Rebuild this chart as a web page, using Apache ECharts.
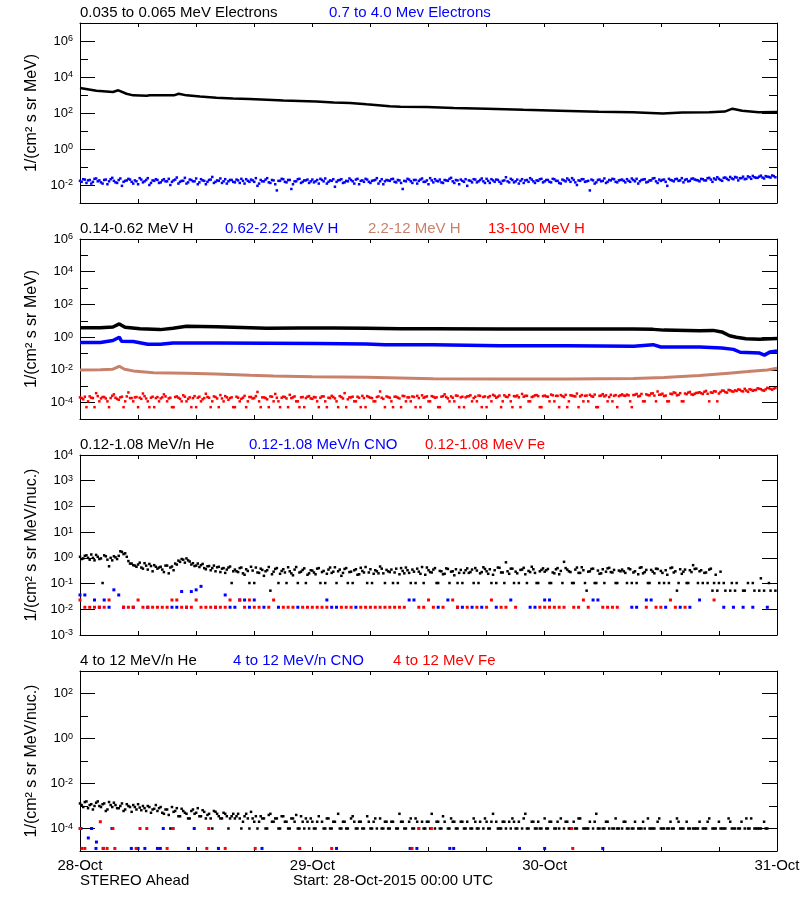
<!DOCTYPE html>
<html><head><meta charset="utf-8">
<script src="https://cdn.jsdelivr.net/npm/echarts@6/dist/echarts.min.js"></script>
<style>html,body{margin:0;padding:0;background:#fff}#c{width:800px;height:900px}</style>
</head><body><div id="c"></div>
<script>
const _ = null;
// sample spacing in hours for the regularly sampled series (second set offset by 10 min)
const STEP20 = 1 / 3, STEP30 = 0.5, OFF10 = 1 / 6;
// x tick labels (hours from 28-Oct-2015 00:00 UTC)
const tickHours = [0, 24, 48, 72];
const tickLabels = ['28-Oct', '29-Oct', '30-Oct', '31-Oct'];

// ---- Panel 1: electrons ----
const elecLoTimes = [0, 1.7, 3.4, 3.96, 4.8, 5.5, 6.9, 7.2, 9.7, 10.2, 11.0, 12.4, 14.1, 15.8, 17.5, 19.3, 21.0, 22.7, 24.4, 26.2, 27.9, 29.6, 32.0, 33.1, 35.8, 38.6, 42.0, 45.8, 49.5, 53.6, 57.1, 60.2, 62.2, 65.0, 66.6, 67.4, 68.4, 70.1, 72];
const elecLoVals = [2455, 1738, 1479, 1820, 1175, 955, 912, 977, 955, 1175, 955, 813, 708, 646, 603, 550, 501, 468, 437, 389, 363, 302, 234, 224, 214, 191, 174, 151, 135, 117, 110, 95, 105, 110, 120, 174, 135, 110, 112];
const elecHiVals = [
0.017,0.021,0.013,0.019,0.015,0.023,0.018,0.012,0.020,0.016,0.025,0.014,0.019,0.009,0.017,0.022,0.015,0.018,0.011,0.020,0.016,0.024,0.013,0.017,
0.019,0.014,0.021,0.016,0.010,0.018,0.026,0.015,0.017,0.012,0.020,0.016,0.023,0.014,0.018,0.011,0.019,0.028,0.015,0.017,0.013,0.021,0.016,0.019,
0.014,0.018,0.022,0.012,0.017,0.020,0.015,0.009,0.019,0.016,0.024,0.013,0.018,0.005,0.017,0.021,0.014,0.019,0.011,0.016,0.022,0.015,0.018,0.013,
0.020,0.016,0.012,0.019,0.023,0.015,0.017,0.008,0.018,0.021,0.014,0.016,0.019,0.012,0.022,0.017,0.015,0.020,0.013,0.018,0.024,0.016,0.011,0.019,
0.017,0.022,0.014,0.018,0.006,0.016,0.020,0.013,0.019,0.017,0.023,0.015,0.011,0.018,0.021,0.016,0.014,0.019,0.017,0.025,0.013,0.018,0.020,0.015,
0.009,0.017,0.021,0.014,0.019,0.016,0.022,0.013,0.018,0.020,0.015,0.017,0.027,0.014,0.019,0.016,0.012,0.021,0.018,0.015,0.020,0.013,0.017,0.022,
0.016,0.019,0.014,0.021,0.017,0.012,0.018,0.023,0.015,0.019,0.010,0.017,0.021,0.016,0.005,0.018,0.014,0.020,0.017,0.013,0.019,0.022,0.015,0.018,
0.020,0.014,0.017,0.023,0.016,0.012,0.019,0.021,0.015,0.018,0.024,0.013,0.017,0.020,0.009,0.019,0.016,0.022,0.018,0.014,0.021,0.017,0.023,0.019,
0.016,0.021,0.018,0.025,0.015,0.020,0.022,0.017,0.026,0.019,0.023,0.028,0.018,0.024,0.021,0.030,0.022,0.027,0.025,0.033,0.023,0.029,0.026,0.031];
const elecHiValsB = [
0.015,0.020,0.018,0.012,0.022,0.016,0.014,0.019,0.011,0.021,0.017,0.013,0.023,0.015,0.018,0.020,0.012,0.016,0.024,0.014,0.019,0.010,0.018,0.021,
0.013,0.018,0.016,0.022,0.015,0.020,0.012,0.017,0.025,0.014,0.019,0.016,0.011,0.021,0.017,0.015,0.020,0.013,0.018,0.023,0.016,0.012,0.019,0.015,
0.020,0.013,0.017,0.021,0.015,0.018,0.024,0.012,0.016,0.020,0.014,0.019,0.011,0.017,0.022,0.015,0.019,0.006,0.016,0.021,0.013,0.018,0.020,0.016,
0.014,0.019,0.022,0.016,0.012,0.018,0.021,0.015,0.019,0.013,0.017,0.023,0.016,0.020,0.011,0.018,0.022,0.015,0.017,0.019,0.012,0.021,0.016,0.018,
0.021,0.015,0.019,0.013,0.017,0.022,0.016,0.019,0.012,0.020,0.015,0.018,0.024,0.014,0.017,0.020,0.013,0.018,0.022,0.016,0.019,0.011,0.017,0.021,
0.018,0.014,0.020,0.016,0.023,0.013,0.017,0.021,0.015,0.019,0.012,0.018,0.016,0.022,0.014,0.020,0.017,0.013,0.019,0.024,0.016,0.018,0.021,0.014,
0.019,0.015,0.022,0.017,0.013,0.020,0.016,0.019,0.024,0.014,0.018,0.021,0.015,0.017,0.020,0.012,0.019,0.016,0.023,0.015,0.018,0.021,0.014,0.019,
0.017,0.021,0.015,0.019,0.022,0.016,0.020,0.014,0.018,0.023,0.016,0.020,0.019,0.015,0.022,0.018,0.021,0.017,0.024,0.019,0.016,0.022,0.020,0.018,
0.022,0.018,0.024,0.020,0.023,0.027,0.019,0.025,0.022,0.028,0.021,0.026,0.024,0.029,0.022,0.027,0.032,0.025,0.029,0.026,0.031,0.028,0.034,0.027];

// ---- Panel 2: protons ----
const hLoTimes = [0, 2.1, 3.4, 4.06, 4.65, 6.2, 8.3, 9.6, 11.0, 14.1, 17.6, 19.3, 22.7, 26.2, 29.6, 33.1, 36.5, 43.4, 50.3, 57.2, 59.2, 60.3, 64.0, 65.4, 66.3, 67.1, 67.8, 68.8, 70.2, 72];
const hLoVals = [3.8, 3.8, 4.2, 6.5, 4.0, 3.3, 2.9, 3.5, 4.6, 4.4, 3.8, 3.5, 3.6, 3.6, 3.5, 3.3, 3.3, 3.2, 3.2, 3.2, 3.0, 2.7, 2.5, 2.6, 2.1, 1.23, 1.0, 0.8, 0.76, 0.83];
const hMidTimes = [0, 2.1, 3.4, 4.06, 4.3, 5.5, 7.0, 8.3, 9.6, 14.0, 19.3, 24.5, 29.6, 31.5, 33.1, 36.5, 43.4, 50.3, 57.2, 59.2, 60.0, 64.0, 66.3, 67.5, 68.2, 70.2, 70.7, 71.3, 72];
const hMidVals = [0.47, 0.47, 0.63, 1.0, 0.56, 0.54, 0.37, 0.37, 0.44, 0.44, 0.43, 0.41, 0.38, 0.34, 0.35, 0.34, 0.30, 0.30, 0.28, 0.35, 0.25, 0.25, 0.22, 0.18, 0.12, 0.107, 0.08, 0.126, 0.145];
const hHiTimes = [0, 2.1, 3.4, 4.06, 4.6, 5.5, 7.6, 11, 14, 17.6, 20, 24, 29.6, 33, 36.5, 43.4, 50.3, 57.2, 60.3, 64, 67, 69, 71, 72];
const hHiVals = [0.010, 0.0102, 0.011, 0.0166, 0.011, 0.0087, 0.0068, 0.0063, 0.0056, 0.0047, 0.0043, 0.0038, 0.0035, 0.0032, 0.0029, 0.0028, 0.0028, 0.0030, 0.0034, 0.0045, 0.0063, 0.0079, 0.010, 0.0126];
const hVhiVals = [
2.1e-4,1.6e-4,5.3e-5,2.4e-4,1.9e-4,3.8e-4,1.2e-4,2.2e-4,1.8e-4,5.3e-5,2.6e-4,2.0e-4,1.5e-4,2.3e-4,1.2e-4,4.2e-4,1.9e-4,2.1e-4,5.3e-5,1.7e-4,2.5e-4,1.2e-4,2.0e-4,5.3e-5,
2.2e-4,1.8e-4,3.2e-4,1.2e-4,2.0e-4,5.3e-5,2.4e-4,1.7e-4,2.8e-4,1.2e-4,2.1e-4,1.9e-4,5.3e-5,2.3e-4,1.6e-4,3.5e-4,2.0e-4,1.2e-4,2.2e-4,5.3e-5,1.8e-4,2.5e-4,1.5e-4,2.1e-4,
5.3e-5,2.0e-4,1.7e-4,2.6e-4,1.2e-4,2.2e-4,1.9e-4,4.5e-4,5.3e-5,2.1e-4,1.6e-4,2.4e-4,1.2e-4,2.0e-4,5.3e-5,2.3e-4,1.8e-4,3.0e-4,2.1e-4,1.2e-4,5.3e-5,2.2e-4,1.9e-4,2.5e-4,
1.7e-4,2.1e-4,5.3e-5,2.4e-4,1.2e-4,2.0e-4,2.6e-4,1.8e-4,5.3e-5,2.2e-4,3.8e-4,1.6e-4,2.1e-4,1.2e-4,2.3e-4,5.3e-5,1.9e-4,2.5e-4,2.0e-4,1.2e-4,2.2e-4,4.8e-4,1.7e-4,2.4e-4,
2.0e-4,5.3e-5,2.3e-4,1.8e-4,2.6e-4,1.2e-4,2.1e-4,2.4e-4,5.3e-5,1.9e-4,2.8e-4,2.2e-4,1.2e-4,2.5e-4,2.0e-4,5.3e-5,2.3e-4,3.2e-4,1.8e-4,2.4e-4,1.2e-4,2.6e-4,2.1e-4,5.3e-5,
2.4e-4,2.8e-4,1.9e-4,1.2e-4,2.6e-4,2.2e-4,5.3e-5,2.5e-4,3.0e-4,2.0e-4,2.7e-4,1.2e-4,2.3e-4,2.9e-4,5.3e-5,2.4e-4,2.1e-4,3.4e-4,2.6e-4,1.2e-4,2.2e-4,2.8e-4,2.5e-4,5.3e-5,
2.7e-4,2.3e-4,3.1e-4,1.2e-4,2.6e-4,2.9e-4,2.2e-4,5.3e-5,2.8e-4,2.5e-4,3.6e-4,2.4e-4,1.2e-4,2.7e-4,3.0e-4,2.3e-4,5.3e-5,2.6e-4,3.3e-4,2.8e-4,2.2e-4,1.2e-4,2.9e-4,2.5e-4,
3.2e-4,2.6e-4,2.8e-4,5.3e-5,3.0e-4,2.4e-4,3.4e-4,1.2e-4,2.9e-4,3.6e-4,2.7e-4,4.8e-4,3.1e-4,2.5e-4,1.2e-4,3.5e-4,4.2e-4,2.8e-4,3.8e-4,1.2e-4,3.3e-4,4.5e-4,3.0e-4,3.9e-4,
4.3e-4,3.4e-4,5.2e-4,1.2e-4,4.0e-4,4.8e-4,3.6e-4,5.5e-4,4.4e-4,6.0e-4,4.9e-4,5.6e-4,6.4e-4,5.1e-4,7.0e-4,4.6e-4,6.2e-4,5.8e-4,7.5e-4,6.6e-4,5.4e-4,8.0e-4,6.9e-4,7.2e-4];
const hVhiValsB = [
1.9e-4,2.3e-4,1.2e-4,2.0e-4,5.3e-5,2.5e-4,1.8e-4,2.2e-4,1.2e-4,1.9e-4,3.2e-4,1.7e-4,2.1e-4,5.3e-5,2.4e-4,1.9e-4,1.2e-4,2.2e-4,2.0e-4,3.6e-4,1.8e-4,5.3e-5,2.3e-4,1.9e-4,
1.2e-4,2.1e-4,2.4e-4,1.8e-4,5.3e-5,2.2e-4,2.0e-4,1.2e-4,2.3e-4,1.7e-4,5.3e-5,2.5e-4,2.0e-4,1.2e-4,1.9e-4,2.2e-4,5.3e-5,2.4e-4,1.8e-4,2.9e-4,1.2e-4,2.1e-4,1.9e-4,5.3e-5,
2.3e-4,1.2e-4,2.0e-4,5.3e-5,2.2e-4,1.8e-4,2.5e-4,1.2e-4,2.1e-4,1.9e-4,5.3e-5,2.3e-4,3.4e-4,1.2e-4,2.0e-4,2.2e-4,5.3e-5,1.9e-4,2.4e-4,1.2e-4,2.1e-4,5.3e-5,2.3e-4,1.8e-4,
2.2e-4,1.2e-4,2.0e-4,2.4e-4,5.3e-5,1.9e-4,2.2e-4,1.2e-4,2.5e-4,1.8e-4,5.3e-5,2.1e-4,2.3e-4,1.2e-4,2.0e-4,2.6e-4,5.3e-5,2.2e-4,1.9e-4,1.2e-4,2.4e-4,2.0e-4,5.3e-5,2.2e-4,
1.2e-4,2.3e-4,2.0e-4,5.3e-5,2.5e-4,2.1e-4,1.2e-4,2.2e-4,2.6e-4,5.3e-5,2.0e-4,2.4e-4,1.2e-4,2.3e-4,2.1e-4,5.3e-5,2.5e-4,2.2e-4,1.2e-4,2.0e-4,2.7e-4,5.3e-5,2.3e-4,2.1e-4,
2.5e-4,1.2e-4,2.3e-4,2.7e-4,5.3e-5,2.4e-4,2.1e-4,1.2e-4,2.6e-4,2.3e-4,5.3e-5,2.8e-4,2.2e-4,1.2e-4,2.5e-4,2.7e-4,5.3e-5,2.3e-4,2.6e-4,1.2e-4,2.4e-4,2.9e-4,5.3e-5,2.5e-4,
2.4e-4,1.2e-4,2.8e-4,2.6e-4,5.3e-5,2.5e-4,3.0e-4,1.2e-4,2.7e-4,2.4e-4,5.3e-5,2.9e-4,2.6e-4,1.2e-4,2.5e-4,3.1e-4,5.3e-5,2.7e-4,2.4e-4,1.2e-4,3.0e-4,2.6e-4,5.3e-5,2.8e-4,
2.7e-4,3.1e-4,1.2e-4,2.9e-4,3.4e-4,2.6e-4,1.2e-4,3.2e-4,2.8e-4,3.7e-4,1.2e-4,3.0e-4,3.5e-4,2.7e-4,1.2e-4,3.3e-4,3.9e-4,3.0e-4,1.2e-4,3.6e-4,4.1e-4,3.2e-4,3.5e-4,4.0e-4,
3.8e-4,4.6e-4,3.5e-4,4.2e-4,5.0e-4,1.2e-4,4.5e-4,5.3e-4,4.1e-4,5.7e-4,4.7e-4,5.2e-4,6.1e-4,4.9e-4,5.5e-4,6.6e-4,5.3e-4,6.0e-4,7.1e-4,5.7e-4,6.5e-4,7.6e-4,6.2e-4,7.8e-4];

// ---- Panel 3: 0.12-1.08 MeV/n ions ----
const heLoVals = [
1.1,0.95,1.25,0.85,1.0,1.3,0.9,0.105,1.15,0.47,0.8,1.05,1.2,1.7,1.5,0.75,0.6,0.5,0.55,0.42,0.62,0.35,0.48,0.52,
0.38,0.45,0.28,0.5,0.42,0.33,0.55,0.7,0.85,0.95,0.72,0.62,0.5,0.44,0.58,0.36,0.48,0.4,0.3,0.45,0.38,0.26,0.42,0.105,
0.35,0.28,0.42,0.22,0.31,0.45,0.105,0.27,0.38,0.2,0.33,0.053,0.29,0.4,0.24,0.36,0.105,0.3,0.21,0.44,0.27,0.34,0.105,0.25,
0.32,0.23,0.4,0.28,0.105,0.35,0.26,0.43,0.3,0.2,0.37,0.105,0.29,0.33,0.22,0.41,0.27,0.105,0.36,0.24,0.3,0.46,0.25,0.34,
0.28,0.105,0.38,0.23,0.31,0.42,0.26,0.35,0.105,0.29,0.44,0.22,0.33,0.27,0.4,0.105,0.3,0.24,0.37,0.29,0.21,0.105,0.34,0.26,
0.39,0.28,0.105,0.32,0.25,0.43,0.3,0.36,0.22,0.105,0.41,0.27,0.67,0.24,0.38,0.29,0.105,0.35,0.23,0.31,0.45,0.26,0.105,0.34,
0.29,0.37,0.105,0.25,0.4,0.31,0.7,0.35,0.28,0.105,0.42,0.26,0.33,0.053,0.3,0.38,0.105,0.24,0.36,0.29,0.41,0.27,0.105,0.32,
0.35,0.26,0.39,0.105,0.3,0.23,0.43,0.28,0.105,0.34,0.25,0.37,0.31,0.105,0.22,0.4,0.27,0.053,0.36,0.29,0.105,0.33,0.52,0.38,
0.3,0.105,0.27,0.35,0.053,0.22,0.105,_,0.053,_,0.105,0.053,_,_,0.053,0.105,_,0.053,_,0.16,0.053,_,0.053,_];
const heLoValsB = [
0.9,1.2,1.0,1.35,0.8,1.1,0.95,1.25,0.85,1.0,1.15,0.9,1.8,1.4,1.1,0.6,0.52,0.45,0.65,0.38,0.5,0.58,0.3,0.45,
0.42,0.35,0.5,0.25,0.46,0.6,0.78,0.9,0.65,0.8,0.55,0.48,0.6,0.52,0.4,0.47,0.33,0.5,0.43,0.28,0.4,0.35,0.46,0.3,
0.3,0.4,0.25,0.36,0.105,0.32,0.42,0.26,0.34,0.3,0.44,0.23,0.37,0.105,0.31,0.27,0.43,0.25,0.35,0.105,0.29,0.39,0.22,0.33,
0.27,0.38,0.105,0.31,0.24,0.42,0.29,0.105,0.35,0.26,0.4,0.28,0.105,0.36,0.23,0.31,0.44,0.27,0.105,0.33,0.25,0.38,0.105,0.3,
0.35,0.27,0.105,0.4,0.25,0.33,0.105,0.29,0.38,0.24,0.105,0.42,0.28,0.35,0.105,0.31,0.23,0.39,0.105,0.3,0.36,0.26,0.105,0.33,
0.26,0.35,0.4,0.105,0.28,0.37,0.24,0.105,0.33,0.42,0.27,0.105,0.3,0.38,0.105,0.25,0.34,0.41,0.105,0.28,0.36,0.105,0.3,0.39,
0.33,0.105,0.27,0.36,0.23,0.105,0.4,0.3,0.105,0.35,0.26,0.43,0.105,0.29,0.37,0.105,0.32,0.25,0.105,0.39,0.28,0.34,0.105,0.3,
0.3,0.105,0.36,0.27,0.105,0.41,0.25,0.34,0.105,0.29,0.38,0.105,0.26,0.33,0.105,0.42,0.3,0.105,0.24,0.35,0.105,0.28,0.37,0.105,
0.33,0.26,0.105,0.38,0.105,0.053,0.29,0.105,_,0.053,_,0.105,_,0.053,_,_,0.105,_,0.053,_,_,0.105,_,0.053];
const cnoLoVals = [
0.036,0.036,_,0.023,0.012,0.023,0.012,0.057,0.036,0.012,_,0.012,_,_,0.012,_,
_,_,_,0.012,0.012,0.049,0.012,0.049,0.057,0.078,_,_,0.012,_,0.036,0.012,
0.012,0.023,0.023,0.012,0.023,_,0.012,_,_,0.012,_,_,_,0.012,_,_,
_,_,_,0.023,0.012,0.012,_,_,_,0.012,_,_,_,_,_,_,
_,_,_,_,0.023,0.023,_,_,_,_,0.012,_,0.023,_,0.012,0.012,
_,0.012,_,0.012,_,_,0.012,_,_,0.023,_,_,_,0.012,0.012,_,
0.023,0.023,_,_,_,_,_,_,_,_,0.023,0.023,_,_,_,_,
_,_,0.012,0.012,_,0.023,0.023,_,_,0.012,_,_,0.012,_,0.012,_,
0.023,_,_,_,_,0.012,_,0.012,_,0.012,_,0.012,_,_,0.012,_];
const feLoVals = [
0.023,0.012,0.012,0.012,0.012,0.012,0.023,_,_,0.012,0.012,0.012,0.023,0.012,0.012,0.012,
0.012,0.012,0.012,0.023,0.023,0.012,0.012,0.012,0.023,0.012,0.012,0.012,0.012,0.012,0.012,0.023,
_,0.023,0.012,0.023,0.012,0.012,_,0.012,0.023,_,0.012,0.012,0.012,_,0.012,0.012,
0.012,0.012,0.012,0.012,_,_,0.012,0.012,0.012,_,0.012,0.012,0.012,0.012,0.012,0.012,
0.012,0.012,0.012,0.012,_,_,0.012,0.012,0.023,0.012,_,0.012,_,0.023,0.012,_,
0.012,_,0.012,_,0.012,0.023,_,0.012,0.012,_,0.012,_,_,_,_,0.012,
0.012,0.012,0.012,0.012,0.012,_,0.012,0.012,0.023,0.012,_,_,0.012,0.012,0.012,0.012,
_,_,_,_,_,0.012,_,0.012,0.012,_,0.023,0.012,_,0.012,_,_,
_,_,_,0.023,_,_,_,_,_,_,_,_,_,_,_,_];

// ---- Panel 4: 4-12 MeV/n ions ----
const heHiVals = [
1.3e-3,9e-4,1.6e-3,1.1e-3,7e-4,1.4e-3,1.0e-3,1.2e-3,6e-4,1.5e-3,9e-4,1.1e-3,8e-4,1.3e-3,7e-4,1.0e-3,5.5e-4,9e-4,1.2e-3,6.5e-4,8e-4,1.0e-3,5e-4,7.5e-4,
6e-4,9e-4,4.5e-4,7e-4,1e-4,5.5e-4,8e-4,3.5e-4,6e-4,4.5e-4,2.8e-4,7e-4,5e-4,3.5e-4,6.5e-4,2.8e-4,4.5e-4,1e-4,5.5e-4,3.5e-4,2.8e-4,4.5e-4,1e-4,3.5e-4,
2.8e-4,4.5e-4,1e-4,3.5e-4,2.8e-4,5.5e-4,2e-4,1e-4,3.5e-4,2.8e-4,1e-4,4.5e-4,2e-4,2.8e-4,1e-4,3.5e-4,2e-4,1e-4,2.8e-4,4e-4,1e-4,2e-4,2.8e-4,1e-4,
2e-4,1e-4,3.5e-4,2e-4,1e-4,2.8e-4,1e-4,2e-4,4.5e-4,1e-4,2e-4,1e-4,2.8e-4,2e-4,1e-4,2e-4,1e-4,3.5e-4,1e-4,2e-4,1e-4,2.8e-4,1e-4,2e-4,
1e-4,2e-4,1e-4,4.5e-4,2e-4,1e-4,2e-4,1e-4,2.8e-4,1e-4,2e-4,1e-4,2e-4,4.5e-4,1e-4,2e-4,1e-4,2e-4,1e-4,2.8e-4,2e-4,1e-4,2e-4,1e-4,
2e-4,1e-4,2.8e-4,1e-4,2e-4,1e-4,2e-4,1e-4,4.5e-4,2e-4,1e-4,2e-4,1e-4,2e-4,2.8e-4,1e-4,2e-4,1e-4,4.5e-4,1e-4,2e-4,1e-4,2e-4,1e-4,
2.8e-4,1e-4,2e-4,1e-4,2e-4,2.8e-4,1e-4,2e-4,1e-4,2e-4,1e-4,2.8e-4,1e-4,1e-4,2e-4,1e-4,4.5e-4,1e-4,1e-4,2e-4,1e-4,1e-4,2.8e-4,1e-4,
1e-4,2e-4,1e-4,1e-4,2e-4,1e-4,1e-4,1e-4,2.8e-4,1e-4,1e-4,2e-4,1e-4,1e-4,1e-4,2e-4,1e-4,2.8e-4,1e-4,1e-4,2e-4,1e-4,1e-4,1e-4,
2e-4,1e-4,1e-4,2.8e-4,1e-4,1e-4,2e-4,1e-4,1e-4,2.8e-4,1e-4,1e-4,1e-4,2e-4,1e-4,1e-4,2.8e-4,1e-4,1e-4,1e-4,2e-4,1e-4,_,_];
const heHiValsB = [
1.1e-3,1.5e-3,8e-4,1.2e-3,1.0e-3,1.6e-3,9e-4,1.3e-3,7e-4,1.1e-3,1.4e-3,8e-4,1.0e-3,6e-4,1.2e-3,9e-4,1.1e-3,7e-4,8.5e-4,1.0e-3,6e-4,9e-4,7e-4,1.1e-3,
8e-4,5e-4,7e-4,4e-4,9e-4,6e-4,3.5e-4,7.5e-4,5e-4,2.8e-4,6e-4,4.5e-4,8e-4,3.5e-4,5.5e-4,4e-4,2.8e-4,6e-4,4.5e-4,2.8e-4,5e-4,3.5e-4,2.8e-4,4.5e-4,
3.5e-4,2.8e-4,2e-4,4.5e-4,1e-4,2.8e-4,3.5e-4,2e-4,2.8e-4,1e-4,4e-4,2e-4,2.8e-4,1e-4,3.5e-4,2e-4,1e-4,2.8e-4,2e-4,1e-4,3.5e-4,1e-4,2e-4,2.8e-4,
1e-4,2e-4,_,1e-4,2.8e-4,1e-4,2e-4,_,1e-4,2e-4,1e-4,_,3.5e-4,1e-4,2e-4,1e-4,_,2e-4,1e-4,2.8e-4,_,1e-4,2e-4,1e-4,
2e-4,_,1e-4,2e-4,1e-4,_,2.8e-4,1e-4,2e-4,_,1e-4,2e-4,1e-4,_,2e-4,1e-4,3.5e-4,_,1e-4,2e-4,1e-4,_,2e-4,1e-4,
_,1e-4,2e-4,1e-4,_,2.8e-4,1e-4,2e-4,_,1e-4,1e-4,2e-4,_,1e-4,2e-4,1e-4,_,2.8e-4,1e-4,_,2e-4,1e-4,1e-4,_,
1e-4,2e-4,_,1e-4,1e-4,_,2e-4,1e-4,_,1e-4,2.8e-4,_,1e-4,1e-4,_,2e-4,1e-4,_,1e-4,2e-4,_,1e-4,1e-4,_,
2e-4,1e-4,_,1e-4,_,1e-4,2e-4,_,1e-4,1e-4,_,2.8e-4,1e-4,_,1e-4,1e-4,_,2e-4,1e-4,_,1e-4,_,1e-4,1e-4,
_,1e-4,2e-4,_,1e-4,_,1e-4,1e-4,_,2e-4,1e-4,_,1e-4,_,2.8e-4,1e-4,_,1e-4,1e-4,_,1e-4,_,_,_];
const cnoHiTimes = [0.1, 0.86, 1.2, 1.65, 1.7, 2.4, 3.3, 5.3, 6.0, 6.7, 8.0, 8.3, 8.6, 9.6, 11.2, 11.8, 14.3, 18.8, 26.5, 34.1, 34.8, 38.2, 38.6, 45.4, 48.0, 54.0];
const cnoHiVals = [1e-4, 3.8e-5, 1e-4, 1.3e-5, 2.5e-5, 1.3e-5, 1e-4, 1.3e-5, 1.3e-5, 1.3e-5, 1.3e-5, 1.3e-5, 1e-4, 1e-4, 1.3e-5, 1e-4, 1.3e-5, 1.3e-5, 1.3e-5, 1.3e-5, 1.3e-5, 1.3e-5, 1.3e-5, 1.3e-5, 1.3e-5, 1.3e-5];
const feHiTimes = [0.0, 0.2, 0.5, 2.1, 2.4, 2.8, 3.4, 3.6, 5.8, 6.2, 6.9, 9.0, 9.6, 13.1, 13.3, 15.0, 18.1, 22.7, 26.0, 34.3, 35.0, 36.3, 50.8, 50.9];
const feHiVals = [1e-4, 1.3e-5, 1.3e-5, 2e-4, 1.3e-5, 1.3e-5, 1e-4, 1.3e-5, 1.3e-5, 1e-4, 1e-4, 1.3e-5, 1e-4, 1.3e-5, 1e-4, 1.3e-5, 1.3e-5, 1.3e-5, 1.3e-5, 1.3e-5, 1e-4, 1e-4, 1e-4, 1.3e-5];

// ---------------- chart construction ----------------
const BLUE = '#0000ff', RED = '#ff0000', BROWN = '#c8826c', BLACK = '#000000';
const FONT = 'Liberation Sans';
const fromGrid = (vals, step, off) => vals.map((v, i) => v == null ? null : [i * step + (off || 0), Math.log10(v)]).filter(Boolean);
const fromPairs = (ts, vals) => ts.map((t, i) => [t, Math.log10(vals[i])]);

const panels = [
  {top: 23,  min: -3, max: 7, major: [-2, 0, 2, 4, 6], minor: [-3, -1, 1, 3, 5, 7], name: '1/(cm\u00b2 s sr MeV)'},
  {top: 239, min: -5, max: 6, major: [-4, -2, 0, 2, 4, 6], minor: [-5, -3, -1, 1, 3, 5], name: '1/(cm\u00b2 s sr MeV)'},
  {top: 455, min: -3, max: 4, major: [-3, -2, -1, 0, 1, 2, 3, 4], minor: [], name: '1/(cm\u00b2 s sr MeV/nuc.)'},
  {top: 671, min: -5, max: 3, major: [-4, -2, 0, 2], minor: [-5, -3, -1, 1, 3], name: '1/(cm\u00b2 s sr MeV/nuc.)'}
];

const supLabel = v => { const n = Math.round(v); return '{b|10}{s|' + (n < 0 ? '-' + (-n) : String(n)) + '}'; };
const richY = {
  b: {fontFamily: FONT, fontSize: 13, color: BLACK, lineHeight: 13, verticalAlign: 'middle'},
  s: {fontFamily: FONT, fontSize: 9, color: BLACK, lineHeight: 13, verticalAlign: 'top'}
};

const grids = [], xAxes = [], yAxes = [];
panels.forEach((p, i) => {
  grids.push({left: 80, right: 23, top: p.top, height: 180, containLabel: false, outerBoundsMode: 'none'});
  const xb = {
    gridIndex: i, type: 'value', min: 0, max: 72, interval: 6,
    splitLine: {show: false},
    axisLine: {show: true, onZero: false, lineStyle: {color: BLACK, width: 1}},
    axisTick: {show: true, inside: true, length: 4, lineStyle: {color: BLACK}}
  };
  xAxes.push(Object.assign({}, xb, {
    position: 'bottom',
    axisLabel: i === 3 ? {
      show: true, customValues: tickHours, margin: 7, color: BLACK, fontFamily: FONT, fontSize: 15,
      formatter: v => tickLabels[tickHours.indexOf(Math.round(v))]
    } : {show: false}
  }));
  xAxes.push(Object.assign({}, xb, {position: 'top', axisLabel: {show: false}}));
  const yb = {gridIndex: i, type: 'value', min: p.min, max: p.max, splitLine: {show: false}};
  const hasMinor = p.minor.length > 0;
  yAxes.push(Object.assign({}, yb, {
    position: 'left',
    axisLine: {show: true, onZero: false, lineStyle: {color: BLACK, width: 1}},
    axisTick: hasMinor ? {show: true, inside: true, length: 8, customValues: p.minor, lineStyle: {color: BLACK}} : {show: false},
    axisLabel: {show: false},
    name: p.name, nameLocation: 'middle', nameGap: 40, nameRotate: 90,
    nameTextStyle: {color: BLACK, fontFamily: FONT, fontSize: 16}
  }));
  yAxes.push(Object.assign({}, yb, {
    position: 'left',
    axisLine: {show: false, onZero: false},
    axisTick: {show: true, inside: true, length: 15, customValues: p.major, lineStyle: {color: BLACK}},
    axisLabel: {show: true, customValues: p.major, margin: 7, formatter: supLabel, rich: richY}
  }));
  yAxes.push(Object.assign({}, yb, {
    position: 'right',
    axisLine: {show: true, onZero: false, lineStyle: {color: BLACK, width: 1}},
    axisTick: hasMinor ? {show: true, inside: true, length: 8, customValues: p.minor, lineStyle: {color: BLACK}} : {show: false},
    axisLabel: {show: false}
  }));
  yAxes.push(Object.assign({}, yb, {
    position: 'right',
    axisLine: {show: false, onZero: false},
    axisTick: {show: true, inside: true, length: 15, customValues: p.major, lineStyle: {color: BLACK}},
    axisLabel: {show: false}
  }));
});

const lineS = (i, data, color, w) => ({type: 'line', xAxisIndex: 2 * i, yAxisIndex: 4 * i, data, symbol: 'none', showSymbol: false,
  lineStyle: {color, width: w}, itemStyle: {color}, z: 3});
const dotS = (i, data, color, size) => ({type: 'scatter', xAxisIndex: 2 * i, yAxisIndex: 4 * i, data, symbol: 'rect',
  symbolSize: size || 2.5, itemStyle: {color, opacity: 1}, z: 3});

const series = [
  lineS(0, fromPairs(elecLoTimes, elecLoVals), BLACK, 2.5),
  dotS(0, fromGrid(elecHiVals, STEP20), BLUE),
  dotS(0, fromGrid(elecHiValsB, STEP20, OFF10), BLUE),
  dotS(1, fromGrid(hVhiVals, STEP20), RED),
  dotS(1, fromGrid(hVhiValsB, STEP20, OFF10), RED),
  lineS(1, fromPairs(hHiTimes, hHiVals), BROWN, 3),
  lineS(1, fromPairs(hMidTimes, hMidVals), BLUE, 3.5),
  lineS(1, fromPairs(hLoTimes, hLoVals), BLACK, 3.5),
  dotS(2, fromGrid(cnoLoVals, STEP30), BLUE, 3),
  dotS(2, fromGrid(feLoVals, STEP30), RED, 3),
  dotS(2, fromGrid(heLoVals, STEP20), BLACK, 2.5),
  dotS(2, fromGrid(heLoValsB, STEP20, OFF10), BLACK, 2.5),
  dotS(3, fromGrid(heHiVals, STEP20), BLACK, 2.5),
  dotS(3, fromGrid(heHiValsB, STEP20, OFF10), BLACK, 2.5),
  dotS(3, fromPairs(cnoHiTimes, cnoHiVals), BLUE, 3),
  dotS(3, fromPairs(feHiTimes, feHiVals), RED, 3)
];

const titleRows = [
  [13,  [['0.035 to 0.065 MeV Electrons', 80, BLACK], ['0.7 to 4.0 Mev Electrons', 329, BLUE]]],
  [229, [['0.14-0.62 MeV H', 80, BLACK], ['0.62-2.22 MeV H', 225, BLUE], ['2.2-12 MeV H', 368, BROWN], ['13-100 MeV H', 488, RED]]],
  [445, [['0.12-1.08 MeV/n He', 80, BLACK], ['0.12-1.08 MeV/n CNO', 249, BLUE], ['0.12-1.08 MeV Fe', 425, RED]]],
  [661, [['4 to 12 MeV/n He', 80, BLACK], ['4 to 12 MeV/n CNO', 233, BLUE], ['4 to 12 MeV Fe', 393, RED]]],
  [881, [['STEREO Ahead', 80, BLACK], ['Start: 28-Oct-2015 00:00 UTC', 293, BLACK]]]
];
const graphic = [];
titleRows.forEach(([y, items]) => items.forEach(([t, x, c]) => graphic.push({
  type: 'text', x, y, silent: true,
  style: {text: t, fill: c, fontFamily: FONT, fontSize: 15, align: 'left', verticalAlign: 'middle'}
})));

const chart = echarts.init(document.getElementById('c'), null, {renderer: 'canvas'});
chart.setOption({
  animation: false,
  backgroundColor: '#ffffff',
  grid: grids, xAxis: xAxes, yAxis: yAxes, series, graphic
});
</script></body></html>
